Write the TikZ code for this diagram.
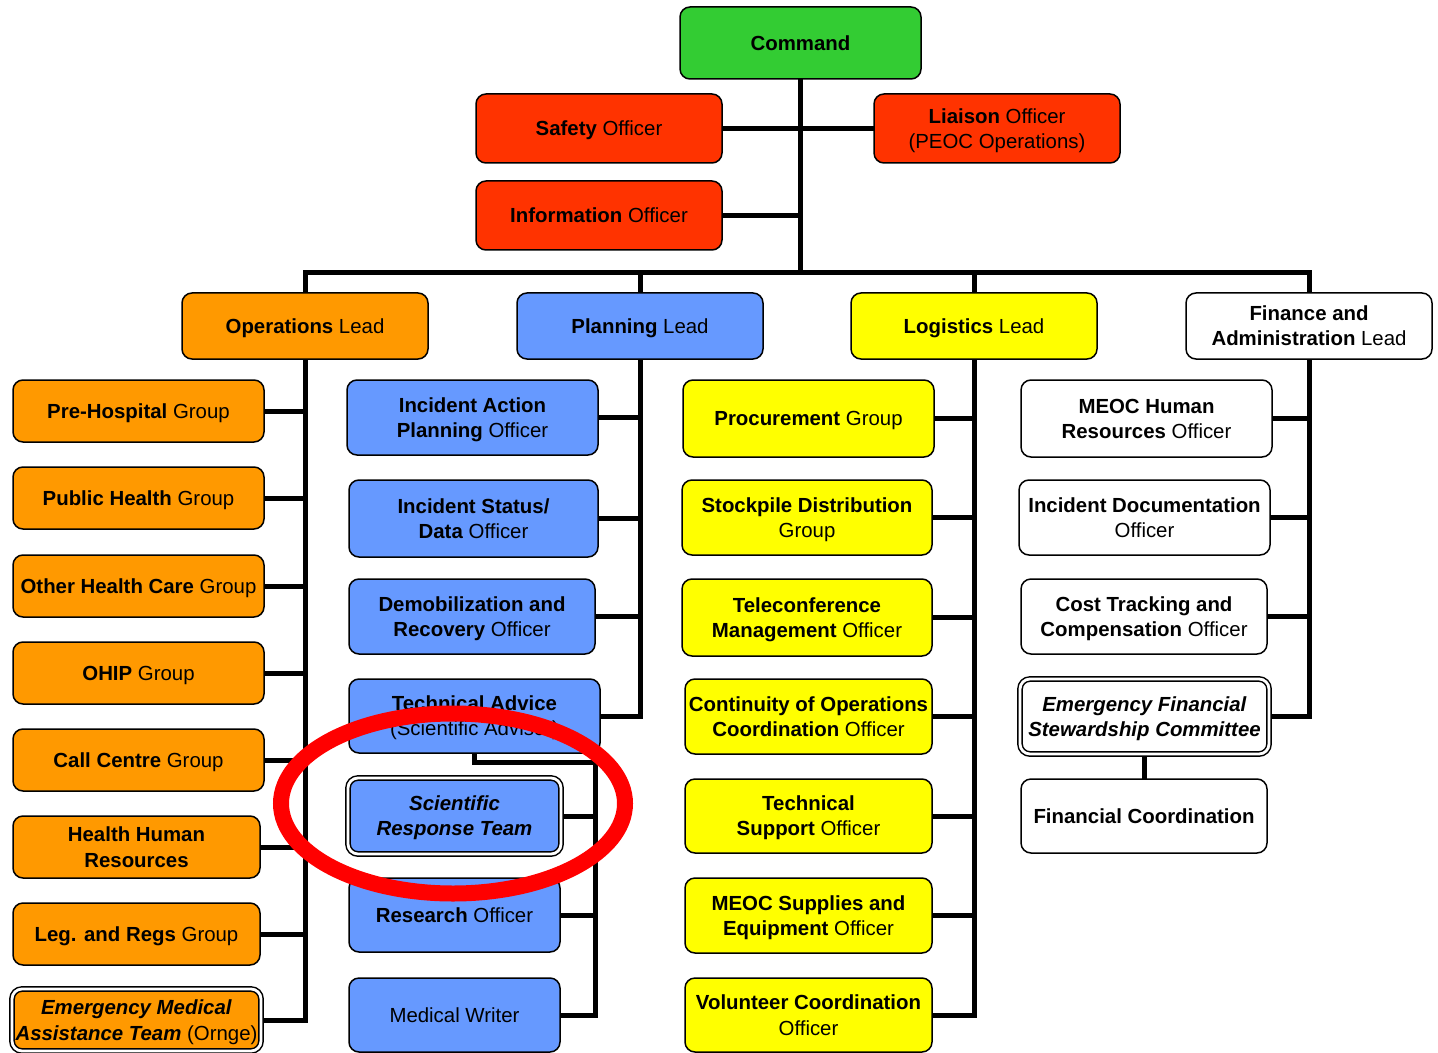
\documentclass[tikz,border=0pt]{standalone}
\usepackage{fontspec}
\setmainfont{Liberation Sans}
\usetikzlibrary{backgrounds,calc}
\definecolor{cgreen}{HTML}{33CC33}
\definecolor{cred}{HTML}{FF3300}
\definecolor{corange}{HTML}{FF9900}
\definecolor{cblue}{HTML}{6699FF}
\definecolor{cyellow}{HTML}{FFFF00}
\newcommand\bx[7]{%
  \node[box,#6,minimum width={(#4-#2)*0.5pt},minimum height={(#5-#3)*0.5pt}]
    (#1) at ({(#2+#4)/2},{(#3+#5)/2}) {#7};}
\begin{document}
\begin{tikzpicture}[x=0.5pt,y=-0.5pt,
  box/.style={draw=black,line width=0.75pt,rounded corners=5pt,inner sep=0pt,
    text depth=0pt,align=center,font=\fontsize{10.2}{12.6}\selectfont},
  dbl/.style={double=white,line width=0.75pt,double distance=1.4pt},
  conn/.style={line width=2.5pt,line cap=rect}]
\useasboundingbox (0,0) rectangle (1438,1053);
% top
\bx{cmd}{680}{7}{921}{79}{fill=cgreen}{\textbf{Command}}
\bx{safety}{476}{94}{722}{163}{fill=cred}{\textbf{Safety} Officer}
\bx{liaison}{874}{94}{1120}{163}{fill=cred}{\textbf{Liaison} Officer\\(PEOC Operations)}
\bx{info}{476}{181}{722}{250}{fill=cred}{\textbf{Information} Officer}
% leads
\bx{opsl}{182}{293}{428}{359}{fill=corange}{\textbf{Operations} Lead}
\bx{plnl}{517}{293}{763}{359}{fill=cblue}{\textbf{Planning} Lead}
\bx{logl}{851}{293}{1097}{359}{fill=cyellow}{\textbf{Logistics} Lead}
\bx{finl}{1186}{293}{1432}{359}{fill=white}{\textbf{Finance and}\\\textbf{Administration} Lead}
% operations
\bx{o1}{13}{380}{264}{442}{fill=corange}{\textbf{Pre-Hospital} Group}
\bx{o2}{13}{467}{264}{529}{fill=corange}{\textbf{Public Health} Group}
\bx{o3}{13}{555}{264}{617}{fill=corange}{\textbf{Other Health Care} Group}
\bx{o4}{13}{642}{264}{704}{fill=corange}{\textbf{OHIP} Group}
\bx{o5}{13}{729}{264}{791}{fill=corange}{\textbf{Call Centre} Group}
\bx{o6}{13}{816}{260}{878}{fill=corange}{\textbf{Health Human}\\\textbf{Resources}}
\bx{o7}{13}{903}{260}{965}{fill=corange}{\textbf{Leg. and Regs} Group}
\bx{o8}{12}{989}{261}{1051}{fill=corange,dbl}{\textbf{\textit{Emergency Medical}}\\\textbf{\textit{Assistance Team}} (Ornge)}
% planning
\bx{p1}{347}{380}{598}{455}{fill=cblue}{\textbf{Incident Action}\\\textbf{Planning} Officer}
\bx{p2}{349}{480}{598}{557}{fill=cblue}{\textbf{Incident Status/}\\\textbf{Data} Officer}
\bx{p3}{349}{579}{595}{654}{fill=cblue}{\textbf{Demobilization and}\\\textbf{Recovery} Officer}
\bx{p4}{349}{679}{600}{753}{fill=cblue}{\textbf{Technical Advice}\\(Scientific Advisor)}
\bx{p5}{348}{778}{561}{854}{fill=cblue,dbl}{\textbf{\textit{Scientific}}\\\textbf{\textit{Response Team}}}
\bx{p6}{349}{878}{560}{952}{fill=cblue}{\textbf{Research} Officer}
\bx{p7}{349}{978}{560}{1052}{fill=cblue}{Medical Writer}
% logistics
\bx{l1}{683}{380}{934}{457}{fill=cyellow}{\textbf{Procurement} Group}
\bx{l2}{682}{480}{932}{555}{fill=cyellow}{\textbf{Stockpile Distribution}\\Group}
\bx{l3}{682}{579}{932}{656}{fill=cyellow}{\textbf{Teleconference}\\\textbf{Management} Officer}
\bx{l4}{685}{679}{932}{754}{fill=cyellow}{\textbf{Continuity of Operations}\\\textbf{Coordination} Officer}
\bx{l5}{685}{779}{932}{853}{fill=cyellow}{\textbf{Technical}\\\textbf{Support} Officer}
\bx{l6}{685}{878}{932}{953}{fill=cyellow}{\textbf{MEOC Supplies and}\\\textbf{Equipment} Officer}
\bx{l7}{685}{978}{932}{1052}{fill=cyellow}{\textbf{Volunteer Coordination}\\Officer}
% finance
\bx{f1}{1021}{380}{1272}{457}{fill=white}{\textbf{MEOC Human}\\\textbf{Resources} Officer}
\bx{f2}{1019}{480}{1270}{555}{fill=white}{\textbf{Incident Documentation}\\Officer}
\bx{f3}{1021}{579}{1267}{654}{fill=white}{\textbf{Cost Tracking and}\\\textbf{Compensation} Officer}
\bx{f4}{1020}{679}{1269}{754}{fill=white,dbl}{\textbf{\textit{Emergency Financial}}\\\textbf{\textit{Stewardship Committee}}}
\bx{f5}{1021}{779}{1267}{853}{fill=white}{\textbf{Financial Coordination}}
\coordinate (bar) at (801,273);
\coordinate (sub) at (595,762);
\begin{scope}[on background layer]
\draw[conn] (cmd.south) -- (cmd.south |- bar);
\draw[conn] (safety.east) -- (liaison.west);
\draw[conn] (info.east) -- (info.east -| cmd.south);
\draw[conn] (opsl.north |- bar) -- (finl.north |- bar);
\foreach \n in {opsl,plnl,logl,finl} \draw[conn] (\n.north) -- (\n.north |- bar);
\draw[conn] (opsl.south) -- (opsl.south |- o8.east);
\foreach \n in {o1,o2,o3,o4,o5,o6,o7,o8} \draw[conn] (\n.east) -- (\n.east -| opsl.south);
\draw[conn] (plnl.south) -- (plnl.south |- p4.east);
\foreach \n in {p1,p2,p3,p4} \draw[conn] (\n.east) -- (\n.east -| plnl.south);
\draw[conn] (p4.south) |- (sub) -- (sub |- p7.east);
\foreach \n in {p5,p6,p7} \draw[conn] (\n.east) -- (\n.east -| sub);
\draw[conn] (logl.south) -- (logl.south |- l7.east);
\foreach \n in {l1,l2,l3,l4,l5,l6,l7} \draw[conn] (\n.east) -- (\n.east -| logl.south);
\draw[conn] (finl.south) -- (finl.south |- f4.east);
\foreach \n in {f1,f2,f3,f4} \draw[conn] (\n.east) -- (\n.east -| finl.south);
\draw[conn] (f4.south) -- (f4.south |- f5.north);
\end{scope}
\draw[red,line width=8pt] (453,803.5) ellipse [x radius=86pt,y radius=45pt];
\end{tikzpicture}
\end{document}
